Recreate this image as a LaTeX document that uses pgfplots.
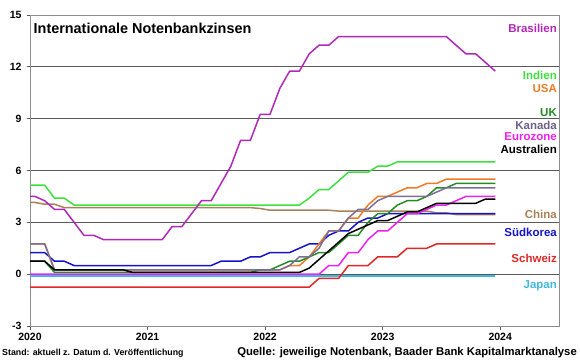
\documentclass[border=0pt]{standalone}
\usepackage{pgfplots}
\usepackage{pgfplotstable}
\pgfplotsset{compat=1.18}
\usepackage{fontspec}
\setmainfont{Liberation Sans}

\definecolor{cbra}{HTML}{B028B8}
\definecolor{cind}{HTML}{3EE03E}
\definecolor{cusa}{HTML}{F07A28}
\definecolor{cuk}{HTML}{238C23}
\definecolor{ccan}{HTML}{7C6E96}
\definecolor{ccanl}{HTML}{6E6088}
\definecolor{ceur}{HTML}{F020F0}
\definecolor{caus}{HTML}{000000}
\definecolor{cchn}{HTML}{A8825A}
\definecolor{ckor}{HTML}{1414C8}
\definecolor{cche}{HTML}{E02828}
\definecolor{cjpn}{HTML}{40B8E0}
\definecolor{gridc}{HTML}{5A5A5A}
\definecolor{framec}{HTML}{8C8C8C}

\tikzset{rlab/.style={anchor=east, inner sep=0pt, font=\fontsize{11.5}{13}\selectfont\bfseries}}

\pgfplotstableread{
x    bra   ind   usa   uk    can   eur   aus   chn   kor   che   jpn
0    4.5   5.15  1.75  0.75  1.75  0     0.75  4.15  1.25  -0.75 -0.1
0.5  4.5   5.15  1.75  0.75  1.75  0     0.75  4.15  1.25  -0.75 -0.1
1.5  4.25  5.15  1.75  0.75  1.75  0     0.75  4.05  1.25  -0.75 -0.1
2.5  3.75  4.4   0.25  0.1   0.25  0     0.25  4.05  0.75  -0.75 -0.1
3.5  3.75  4.4   0.25  0.1   0.25  0     0.25  3.85  0.75  -0.75 -0.1
4.5  3.0   4.0   0.25  0.1   0.25  0     0.25  3.85  0.5   -0.75 -0.1
5.5  2.25  4.0   0.25  0.1   0.25  0     0.25  3.85  0.5   -0.75 -0.1
6.5  2.25  4.0   0.25  0.1   0.25  0     0.25  3.85  0.5   -0.75 -0.1
7.5  2.0   4.0   0.25  0.1   0.25  0     0.25  3.85  0.5   -0.75 -0.1
8.5  2.0   4.0   0.25  0.1   0.25  0     0.25  3.85  0.5   -0.75 -0.1
9.5  2.0   4.0   0.25  0.1   0.25  0     0.25  3.85  0.5   -0.75 -0.1
10.5 2.0   4.0   0.25  0.1   0.25  0     0.1   3.85  0.5   -0.75 -0.1
11.5 2.0   4.0   0.25  0.1   0.25  0     0.1   3.85  0.5   -0.75 -0.1
12.5 2.0   4.0   0.25  0.1   0.25  0     0.1   3.85  0.5   -0.75 -0.1
13.5 2.0   4.0   0.25  0.1   0.25  0     0.1   3.85  0.5   -0.75 -0.1
14.5 2.75  4.0   0.25  0.1   0.25  0     0.1   3.85  0.5   -0.75 -0.1
15.5 2.75  4.0   0.25  0.1   0.25  0     0.1   3.85  0.5   -0.75 -0.1
16.5 3.5   4.0   0.25  0.1   0.25  0     0.1   3.85  0.5   -0.75 -0.1
17.5 4.25  4.0   0.25  0.1   0.25  0     0.1   3.85  0.5   -0.75 -0.1
18.5 4.25  4.0   0.25  0.1   0.25  0     0.1   3.85  0.5   -0.75 -0.1
19.5 5.25  4.0   0.25  0.1   0.25  0     0.1   3.85  0.75  -0.75 -0.1
20.5 6.25  4.0   0.25  0.1   0.25  0     0.1   3.85  0.75  -0.75 -0.1
21.5 7.75  4.0   0.25  0.1   0.25  0     0.1   3.85  0.75  -0.75 -0.1
22.5 7.75  4.0   0.25  0.1   0.25  0     0.1   3.85  1.0   -0.75 -0.1
23.5 9.25  4.0   0.25  0.25  0.25  0     0.1   3.8   1.0   -0.75 -0.1
24.5 9.25  4.0   0.25  0.25  0.25  0     0.1   3.7   1.25  -0.75 -0.1
25.5 10.75 4.0   0.25  0.5   0.25  0     0.1   3.7   1.25  -0.75 -0.1
26.5 11.75 4.0   0.5   0.75  0.5   0     0.1   3.7   1.25  -0.75 -0.1
27.5 11.75 4.0   0.5   0.75  1.0   0     0.1   3.7   1.5   -0.75 -0.1
28.5 12.75 4.4   1.0   1.0   1.0   0     0.35  3.7   1.75  -0.75 -0.1
29.5 13.25 4.9   1.75  1.25  1.5   0     0.85  3.7   1.75  -0.25 -0.1
30.5 13.25 4.9   2.5   1.25  2.5   0.5   1.35  3.7   2.25  -0.25 -0.1
31.5 13.75 5.4   2.5   1.75  2.5   0.5   1.85  3.65  2.5   -0.25 -0.1
32.5 13.75 5.9   3.25  2.25  3.25  1.25  2.35  3.65  2.5   0.5   -0.1
33.5 13.75 5.9   3.25  2.25  3.75  1.25  2.6   3.65  3.0   0.5   -0.1
34.5 13.75 5.9   4.0   3.0   3.75  2.0   2.85  3.65  3.25  0.5   -0.1
35.5 13.75 6.25  4.5   3.5   4.25  2.5   3.1   3.65  3.25  1.0   -0.1
36.5 13.75 6.25  4.5   3.5   4.5   2.5   3.1   3.65  3.5   1.0   -0.1
37.5 13.75 6.5   4.75  4.0   4.5   3.0   3.35  3.65  3.5   1.0   -0.1
38.5 13.75 6.5   5.0   4.25  4.5   3.5   3.6   3.65  3.5   1.5   -0.1
39.5 13.75 6.5   5.0   4.25  4.5   3.5   3.6   3.65  3.5   1.5   -0.1
40.5 13.75 6.5   5.25  4.5   4.5   3.75  3.85  3.65  3.5   1.5   -0.1
41.5 13.75 6.5   5.25  5.0   4.75  4.0   4.1   3.55  3.5   1.75  -0.1
42.5 13.75 6.5   5.5   5.0   5.0   4.0   4.1   3.55  3.5   1.75  -0.1
43.5 13.25 6.5   5.5   5.25  5.0   4.25  4.1   3.45  3.5   1.75  -0.1
44.5 12.75 6.5   5.5   5.25  5.0   4.5   4.1   3.45  3.5   1.75  -0.1
45.5 12.75 6.5   5.5   5.25  5.0   4.5   4.1   3.45  3.5   1.75  -0.1
46.5 12.25 6.5   5.5   5.25  5.0   4.5   4.35  3.45  3.5   1.75  -0.1
47.5 11.75 6.5   5.5   5.25  5.0   4.5   4.35  3.45  3.5   1.75  -0.1
}\rates

\begin{document}
\begin{tikzpicture}
\path[use as bounding box] (-30pt,-33pt) rectangle (550pt,326pt);
\begin{axis}[
  at={(0,0)}, anchor=south west,
  scale only axis, width=529pt, height=311pt,
  xmin=0, xmax=54, ymin=-3, ymax=15,
  xtick={0,12,24,36,48}, xticklabels={2020,2021,2022,2023,2024},
  ytick={-3,0,3,6,9,12,15}, yticklabels={-3,0,3,6,9,12,15},
  ymajorgrids, grid style={line width=0.8pt, color=gridc},
  axis line style={framec, line width=0.9pt},
  tick align=outside, xtick pos=bottom, ytick pos=left,
  major tick length=3.5pt, tick style={gridc, line width=0.8pt},
  ticklabel style={font=\fontsize{10.5}{12}\selectfont\bfseries},
  yticklabel style={xshift=-1.5pt},
  xticklabel style={yshift=-0.5pt},
  clip=false,
  every axis plot/.append style={line width=1.5pt, line join=round},
]
\addplot[cchn, no markers] table[x=x, y=chn] {\rates};
\addplot[cind, no markers] table[x=x, y=ind] {\rates};
\addplot[cbra, no markers] table[x=x, y=bra] {\rates};
\addplot[cjpn, no markers, line width=2.6pt] table[x=x, y=jpn] {\rates};
\addplot[cche, no markers] table[x=x, y=che] {\rates};
\addplot[ckor, no markers] table[x=x, y=kor] {\rates};
\addplot[cusa, no markers] table[x=x, y=usa] {\rates};
\addplot[cuk, no markers] table[x=x, y=uk] {\rates};
\addplot[ceur, no markers] table[x=x, y=eur] {\rates};
\addplot[ccan, no markers] table[x=x, y=can] {\rates};
\addplot[caus, no markers] table[x=x, y=aus] {\rates};

\node[rlab, text=cbra] at (axis cs:53.8,14.25) {Brasilien};
\node[rlab, text=cind] at (axis cs:53.8,11.53) {Indien};
\node[rlab, text=cusa] at (axis cs:53.8,10.77) {USA};
\node[rlab, text=cuk] at (axis cs:53.8,9.34) {UK};
\node[rlab, text=ccanl] at (axis cs:53.8,8.61) {Kanada};
\node[rlab, text=ceur] at (axis cs:53.8,7.99) {Eurozone};
\node[rlab, text=caus] at (axis cs:53.8,7.24) {Australien};
\node[rlab, text=cchn] at (axis cs:53.8,3.47) {China};
\node[rlab, text=ckor] at (axis cs:53.8,2.42) {Südkorea};
\node[rlab, text=cche] at (axis cs:53.8,0.93) {Schweiz};
\node[rlab, text=cjpn] at (axis cs:53.8,-0.69) {Japan};

\node[anchor=west, inner sep=0pt, font=\fontsize{14.4}{16}\selectfont\bfseries]
  at ([xshift=3.5pt, yshift=-13pt]rel axis cs:0,1) {Internationale Notenbankzinsen};
\node[anchor=west, inner sep=0pt, font=\fontsize{8.8}{10}\selectfont\bfseries]
  at ([xshift=-28pt, yshift=-27pt]rel axis cs:0,0) {Stand: aktuell z. Datum d. Veröffentlichung};
\node[anchor=east, inner sep=0pt, font=\fontsize{11.3}{13}\selectfont\bfseries]
  at ([xshift=18pt, yshift=-26.5pt]rel axis cs:1,0) {Quelle: jeweilige Notenbank, Baader Bank Kapitalmarktanalyse};
\end{axis}
\end{tikzpicture}
\end{document}
